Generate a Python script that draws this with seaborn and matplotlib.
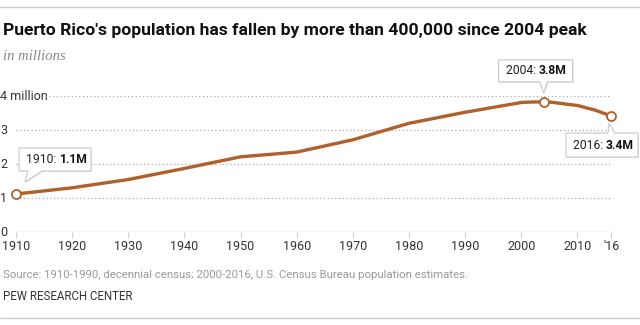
import matplotlib
matplotlib.use("Agg")
import matplotlib.pyplot as plt
import matplotlib.transforms as mtransforms
from matplotlib.patches import Polygon
import seaborn as sns
import pandas as pd

# Puerto Rico population, millions
years = [1910, 1920, 1930, 1940, 1950, 1960, 1970, 1980, 1990,
         2000, 2001, 2002, 2003, 2004, 2005, 2006, 2007, 2008,
         2009, 2010, 2011, 2012, 2013, 2014, 2015, 2016]
population = [1.118, 1.300, 1.544, 1.869, 2.211, 2.350, 2.712, 3.196, 3.522,
              3.808, 3.818, 3.823, 3.826, 3.827, 3.821, 3.805, 3.783, 3.761,
              3.741, 3.722, 3.679, 3.634, 3.593, 3.535, 3.475, 3.411]

x_ticks = [1910, 1920, 1930, 1940, 1950, 1960, 1970, 1980, 1990, 2000, 2010, 2016]
x_labels = ["1910", "1920", "1930", "1940", "1950", "1960", "1970", "1980",
            "1990", "2000", "2010", "'16"]
y_ticks = [0, 1, 2, 3, 4]
y_labels = ["0", "1", "2", "3", "4 million"]

callout_years = [1910, 2004, 2016]
callout_values = ["1.1M", "3.8M", "3.4M"]

title = "Puerto Rico's population has fallen by more than 400,000 since 2004 peak"
subtitle = "in millions"
source = "Source: 1910-1990, decennial census; 2000-2016, U.S. Census Bureau population estimates."
credit = "PEW RESEARCH CENTER"

sns.set_theme(style="white")
SANS = ["Roboto", "DejaVu Sans"]
plt.rcParams["font.family"] = SANS

LINE = "#B0602A"
GRID = "#AAAAAA"
TEXT = "#333333"

W, H = 640, 325
fig = plt.figure(figsize=(W / 100, H / 100), dpi=100)
fig.patch.set_facecolor("white")
renderer = fig.canvas.get_renderer()


def fit_width(txt, width_px):
    """Shrink or grow a text so it spans the given width."""
    bb = txt.get_window_extent(renderer=renderer)
    txt.set_fontsize(txt.get_fontsize() * width_px / bb.width)


x0, x1 = 16, 611
y0, y1 = 232, 96
ax = fig.add_axes([x0 / W, 1 - y0 / H, (x1 - x0) / W, (y0 - y1) / H])
ax.set_facecolor("none")

df = pd.DataFrame({"year": years, "pop": population})
sns.lineplot(data=df, x="year", y="pop", ax=ax, color=LINE, lw=2.4,
             solid_capstyle="round", zorder=3)

ax.set_xlim(1910, 2016)
ax.set_ylim(0, 4)
ax.set_xlabel("")
ax.set_ylabel("")
for s in ax.spines.values():
    s.set_visible(False)

# dotted gridlines; the top one starts after its label
for v in y_ticks[1:]:
    xmin = 29 / (x1 - x0) if v == 4 else 0
    ax.axhline(v, xmin=xmin, xmax=1, color=GRID, lw=0.9, ls=(0, (1, 2)), zorder=1)
ax.axhline(0, color="#CCCCCC", lw=1, zorder=1)

ax.set_xticks(x_ticks)
ax.set_xticklabels(x_labels, fontsize=9, color=TEXT)
ax.tick_params(axis="x", length=4, width=0.8, color="#CCCCCC", pad=2, bottom=True)
ax.set_yticks(y_ticks)
ax.set_yticklabels(y_labels, fontsize=9, color=TEXT, ha="left")
ax.tick_params(axis="y", length=0, pad=16 * 72 / 100)
for lab in ax.get_yticklabels():
    lab.set_verticalalignment("center")

# callout markers
cx = callout_years
cy = [population[years.index(y)] for y in cx]
ax.plot(cx, cy, ls="none", marker="o", ms=6.5, mfc="white", mec=LINE, mew=1.3, zorder=4,
        clip_on=False)

# callout boxes: (box left, right, bottom, top, tail points) in pixels from the point
shapes = {
    1910: dict(box=(3, 75, 23, 46), tail=[(12, 23), (9, 12), (26, 23)]),
    2004: dict(box=(-45, 29, 20, 42), tail=[(-4, 20), (0, 9), (4, 20)]),
    2016: dict(box=(-45, 27, -41, -17), tail=[(-3, -17), (-2, -7), (4, -17)]),
}
px = 1 / 100
for yr, val, yv in zip(cx, callout_values, cy):
    sh = shapes[yr]
    l, r, b, t = sh["box"]
    tr = fig.dpi_scale_trans + mtransforms.ScaledTranslation(yr, yv, ax.transData)
    ta, tip, tb = sh["tail"]
    if b > 0:
        verts = [(l, b), ta, tip, tb, (r, b), (r, t), (l, t)]
    else:
        verts = [(l, t), ta, tip, tb, (r, t), (r, b), (l, b)]
    verts = [(vx * px, vy * px) for vx, vy in verts]
    sh_tr = tr + mtransforms.ScaledTranslation(1 * px, -1 * px, fig.dpi_scale_trans)
    ax.add_patch(Polygon(verts, closed=True, transform=sh_tr, fc="#E8E8E8", ec="none",
                         zorder=5, clip_on=False))
    ax.add_patch(Polygon(verts, closed=True, transform=tr, fc="white", ec="#C8C8C8",
                         lw=0.8, zorder=6, clip_on=False, joinstyle="miter"))
    label_tr = tr + mtransforms.ScaledTranslation((l + 7) * px, ((b + t) / 2) * px,
                                                  fig.dpi_scale_trans)
    t1 = ax.text(0, 0, f"{yr}: ", transform=label_tr, fontsize=8.7, color="#222222",
                 ha="left", va="center", zorder=7)
    ax.annotate(val, xy=(1, 0.5), xycoords=t1, fontsize=8.7, fontweight="bold",
                color="#111111", ha="left", va="center", zorder=7)

# header and footer
t_title = fig.text(3 / W, 1 - 30 / H, title, fontsize=13, fontweight="bold",
                   color="#111111", ha="left", va="center")
fit_width(t_title, 582)
fig.text(3 / W, 1 - 57 / H, subtitle, fontsize=10.5, style="italic", color="#888888",
         family=["Liberation Serif", "DejaVu Serif"], ha="left", va="center")
t_src = fig.text(3 / W, 1 - 275 / H, source, fontsize=8, color="#999999",
                 ha="left", va="center")
fit_width(t_src, 466)
t_cr = fig.text(3 / W, 1 - 297 / H, credit, fontsize=8, color="#333333",
                ha="left", va="center")
fit_width(t_cr, 129)

fig.add_artist(plt.Line2D([0, 1], [1 - 7 / H, 1 - 7 / H], color="#CCCCCC", lw=1,
                          transform=fig.transFigure))
fig.add_artist(plt.Line2D([0, 1], [1 - 318 / H, 1 - 318 / H], color="#CCCCCC", lw=1,
                          transform=fig.transFigure))

fig.savefig("out.png", dpi=100, facecolor="white")
